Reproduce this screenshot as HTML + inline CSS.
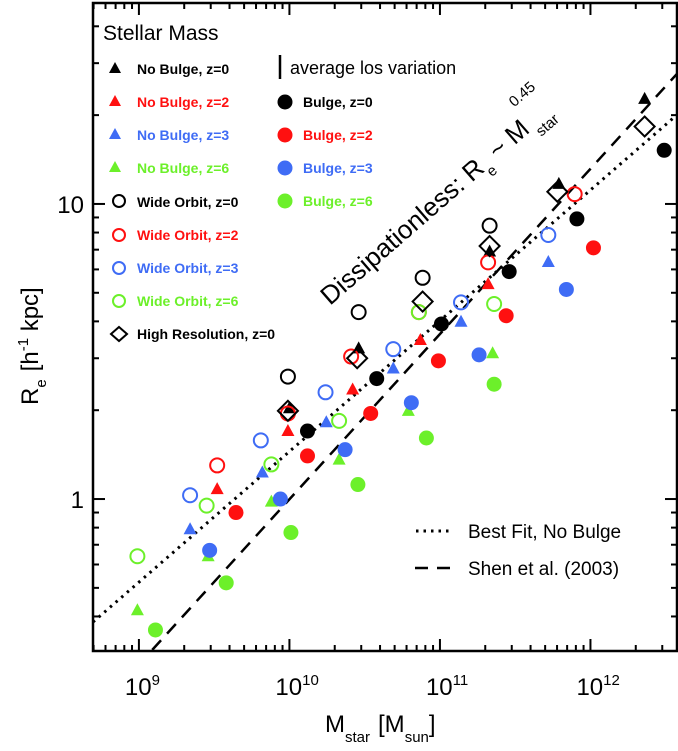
<!DOCTYPE html>
<html><head><meta charset="utf-8"><style>
html,body{margin:0;padding:0;background:#fff;}
svg{display:block;font-family:"Liberation Sans",Arial,sans-serif;}
</style></head><body>
<svg id="chart" width="678" height="751" viewBox="0 0 678 751" xmlns="http://www.w3.org/2000/svg">
<g id="plot"></g>
</svg>
<script>
// ---- data (log10 M_star, R_e) ----
const nbz0M=[10.0,10.46,11.33,11.79,12.36];
const nbz0R=[2.03,3.24,6.9,11.7,22.7];
const nbz2M=[9.52,9.99,10.42,10.87,11.32];
const nbz2R=[1.08,1.70,2.35,3.46,5.35];
const nbz3M=[9.34,9.82,10.245,10.69,11.14,11.72];
const nbz3R=[0.79,1.23,1.82,2.77,3.99,6.36];
const nbz6M=[8.99,9.46,9.88,10.33,10.79,11.35];
const nbz6R=[0.42,0.64,0.98,1.36,1.99,3.12];
const bz0M=[10.12,10.58,11.01,11.46,11.91,12.49];
const bz0R=[1.70,2.56,3.92,5.9,8.9,15.2];
const bz2M=[9.645,10.12,10.54,10.99,11.44,12.02];
const bz2R=[0.90,1.40,1.95,2.94,4.18,7.1];
const bz3M=[9.47,9.94,10.37,10.81,11.26,11.84];
const bz3R=[0.67,1.00,1.47,2.12,3.08,5.13];
const bz6M=[9.11,9.58,10.01,10.455,10.91,11.36];
const bz6R=[0.36,0.52,0.77,1.12,1.61,2.45];
const woz0M=[9.99,10.46,10.885,11.33];
const woz0R=[2.60,4.30,5.62,8.44];
const woz2M=[9.52,9.99,10.41,10.86,11.32,11.895];
const woz2R=[1.30,1.95,3.04,4.30,6.34,10.8];
const woz3M=[9.34,9.81,10.24,10.69,11.14,11.72];
const woz3R=[1.03,1.58,2.30,3.22,4.64,7.85];
const woz6M=[8.99,9.45,9.88,10.33,10.86,11.36];
const woz6R=[0.64,0.95,1.31,1.84,4.3,4.58];
const hrM=[9.99,10.45,10.885,11.33,11.78,12.36];
const hrR=[1.99,3.0,4.67,7.2,11.0,18.3];
const xTicks=[9,10,11,12];
const yTicks=[1,10];
const fitDotted=[8.688,-0.42,0.443];   // logM0, logR0, slope
const fitShen=[9.098,-0.506,0.56];

const NS="http://www.w3.org/2000/svg";
const L=93,R=677,T=3,B=651;
const xMin=8.695,xMax=12.575,yMin=-0.515,yMax=1.681;
function xs(lm){return L+(lm-xMin)/(xMax-xMin)*(R-L);}
function ys(r){return B-(Math.log10(r)-yMin)/(yMax-yMin)*(B-T);}
function ysl(lr){return B-(lr-yMin)/(yMax-yMin)*(B-T);}
const plot=document.getElementById('plot');
function mk(tag,attrs,parent){const e=document.createElementNS(NS,tag);for(const k in attrs)e.setAttribute(k,attrs[k]);(parent||plot).appendChild(e);return e;}

const RED="#ff1010",BLUE="#3f6cf5",GREEN="#6cf02a",BLK="#000";
function marker(type,color,x,y,parent){
  let e;
  if(type==='tri'){e=mk('polygon',{points:`${x},${y-7} ${x-6.5},${y+5} ${x+6.5},${y+5}`,fill:color},parent);}
  else if(type==='fill'){e=mk('circle',{cx:x,cy:y,r:7.5,fill:color},parent);}
  else if(type==='open'){e=mk('circle',{cx:x,cy:y,r:7,fill:'none',stroke:color,'stroke-width':2},parent);}
  else {e=mk('polygon',{points:`${x},${y-10} ${x+10},${y} ${x},${y+10} ${x-10},${y}`,fill:'none',stroke:color,'stroke-width':2},parent);}
  return e;
}

const defs=mk('defs',{});
const cp=mk('clipPath',{id:'clip'},defs);
mk('rect',{x:L,y:T,width:R-L,height:B-T},cp);

const lines=mk('g',{'clip-path':'url(#clip)'});


function fitLine(f,dash,name){
  const a=xMin,b=xMax;
  const l=mk('line',{x1:xs(a),y1:ysl(f[1]+f[2]*(a-f[0])),x2:xs(b),y2:ysl(f[1]+f[2]*(b-f[0])),stroke:'#000','stroke-width':dash[0]<4?3:2.5,'stroke-dasharray':dash.join(' '),'stroke-linecap':'butt'},lines);
  
  
}
fitLine(fitDotted,[2.5,5],'best-fit-line');
fitLine(fitShen,[13,9],'shen-2003-line');

const series=[
 ['no-bulge-z0','tri',BLK,nbz0M,nbz0R],['no-bulge-z2','tri',RED,nbz2M,nbz2R],
 ['no-bulge-z3','tri',BLUE,nbz3M,nbz3R],['no-bulge-z6','tri',GREEN,nbz6M,nbz6R],
 ['bulge-z0','fill',BLK,bz0M,bz0R],['bulge-z2','fill',RED,bz2M,bz2R],
 ['bulge-z3','fill',BLUE,bz3M,bz3R],['bulge-z6','fill',GREEN,bz6M,bz6R],
 ['wide-orbit-z0','open',BLK,woz0M,woz0R],['wide-orbit-z2','open',RED,woz2M,woz2R],
 ['wide-orbit-z3','open',BLUE,woz3M,woz3R],['wide-orbit-z6','open',GREEN,woz6M,woz6R],
 ['high-res-z0','dia',BLK,hrM,hrR]
];
series.forEach(s=>{
  const g=mk('g',{'clip-path':'url(#clip)'});
  
  
  s[3].forEach((m,i)=>{
    const p=marker(s[1],s[2],xs(m),ys(s[4][i]),g);
    
    
  });
});

const fr=mk('rect',{x:L,y:T,width:R-L,height:B-T,fill:'none',stroke:'#000','stroke-width':2.5});



const tg=mk('g',{stroke:'#000','stroke-width':2});


for(let d=8;d<=12;d++){for(let k=1;k<=9;k++){
  const v=d+Math.log10(k); if(v<xMin||v>xMax)continue;
  const len=k===1?12:6,x=xs(v);
  mk('line',{x1:x,y1:B,x2:x,y2:B-len},tg);mk('line',{x1:x,y1:T,x2:x,y2:T+len},tg);
}}
for(let d=-1;d<=1;d++){for(let k=1;k<=9;k++){
  const v=d+Math.log10(k); if(v<yMin||v>yMax)continue;
  const len=k===1?12:6,y=ysl(v);
  mk('line',{x1:L,y1:y,x2:L+len,y2:y},tg);mk('line',{x1:R,y1:y,x2:R-len,y2:y},tg);
}}
xTicks.forEach(t=>{
  const tx=mk('text',{x:xs(t)-14,y:695,'font-size':24});
  
  
  tx.innerHTML=`10<tspan dy="-10" font-size="15">${t}</tspan>`;
});
yTicks.forEach(t=>{
  const tx=mk('text',{x:84,y:ys(t)+9,'font-size':24,'text-anchor':'end'});
  
  
  tx.textContent=t;
});
</script>
<svg style="position:absolute;left:0;top:0" width="678" height="751" xmlns="http://www.w3.org/2000/svg" font-family="Liberation Sans, Arial, sans-serif">
<g>
<text x="325" y="732" font-size="24">M<tspan dy="10" font-size="15">star</tspan><tspan dy="-10" dx="8">[M</tspan><tspan dy="10" font-size="15">sun</tspan><tspan dy="-10">]</tspan></text>
</g>
<g transform="translate(38,405) rotate(-90)">
<text x="0" y="0" font-size="24">R<tspan dy="8" font-size="15">e</tspan><tspan dy="-8" dx="8">[h</tspan><tspan dy="-10" font-size="15">-1</tspan><tspan dy="10"> kpc]</tspan></text>
</g>
<g font-weight="bold">
<text x="103" y="40" font-size="21" font-weight="normal">Stellar Mass</text>
<g font-size="14">
<polygon points="115,62 109,73 121,73" fill="#000"/><text x="137" y="74" fill="#000">No Bulge, z=0</text>
<polygon points="115,95 109,106 121,106" fill="#ff1010"/><text x="137" y="107" fill="#ff1010">No Bulge, z=2</text>
<polygon points="115,128 109,139 121,139" fill="#3f6cf5"/><text x="137" y="140" fill="#3f6cf5">No Bulge, z=3</text>
<polygon points="115,161 109,172 121,172" fill="#6cf02a"/><text x="137" y="173" fill="#6cf02a">No Bulge, z=6</text>
<circle cx="119" cy="201" r="6" fill="none" stroke="#000" stroke-width="2"/><text x="137" y="207" fill="#000">Wide Orbit, z=0</text>
<circle cx="119" cy="235" r="6" fill="none" stroke="#ff1010" stroke-width="2"/><text x="137" y="240" fill="#ff1010">Wide Orbit, z=2</text>
<circle cx="119" cy="268" r="6" fill="none" stroke="#3f6cf5" stroke-width="2"/><text x="137" y="273" fill="#3f6cf5">Wide Orbit, z=3</text>
<circle cx="119" cy="301" r="6" fill="none" stroke="#6cf02a" stroke-width="2"/><text x="137" y="306" fill="#6cf02a">Wide Orbit, z=6</text>
<polygon points="119,327 127,334 119,341 111,334" fill="none" stroke="#000" stroke-width="2"/><text x="137" y="339" fill="#000">High Resolution, z=0</text>
<circle cx="285" cy="102" r="7.5" fill="#000"/><text x="303" y="107" fill="#000">Bulge, z=0</text>
<circle cx="285" cy="135" r="7.5" fill="#ff1010"/><text x="303" y="140" fill="#ff1010">Bulge, z=2</text>
<circle cx="285" cy="168" r="7.5" fill="#3f6cf5"/><text x="303" y="173" fill="#3f6cf5">Bulge, z=3</text>
<circle cx="285" cy="201" r="7.5" fill="#6cf02a"/><text x="303" y="206" fill="#6cf02a">Bulge, z=6</text>
</g>
<line x1="280" y1="55" x2="280" y2="79" stroke="#000" stroke-width="2.5"/>
<text x="290" y="74" font-size="18" font-weight="normal">average los variation</text>
</g>
<g transform="translate(330,306) rotate(-41)">
<text x="0" y="0" font-size="26">Dissipationless: R<tspan dy="9" font-size="15">e</tspan><tspan dy="-9"> ~ M</tspan><tspan dx="4" dy="11" font-size="15">star</tspan><tspan dx="-26" dy="-40" font-size="15">0.45</tspan></text>
</g>
<g>
<line x1="416" y1="531" x2="450" y2="531" stroke="#000" stroke-width="3" stroke-dasharray="2.5 5"/>
<text x="468" y="538" font-size="19">Best Fit, No Bulge</text>
<line x1="415" y1="568" x2="450" y2="568" stroke="#000" stroke-width="2.5" stroke-dasharray="13 9"/>
<text x="468" y="575" font-size="19">Shen et al. (2003)</text>
</g>
</svg>
</body></html>
